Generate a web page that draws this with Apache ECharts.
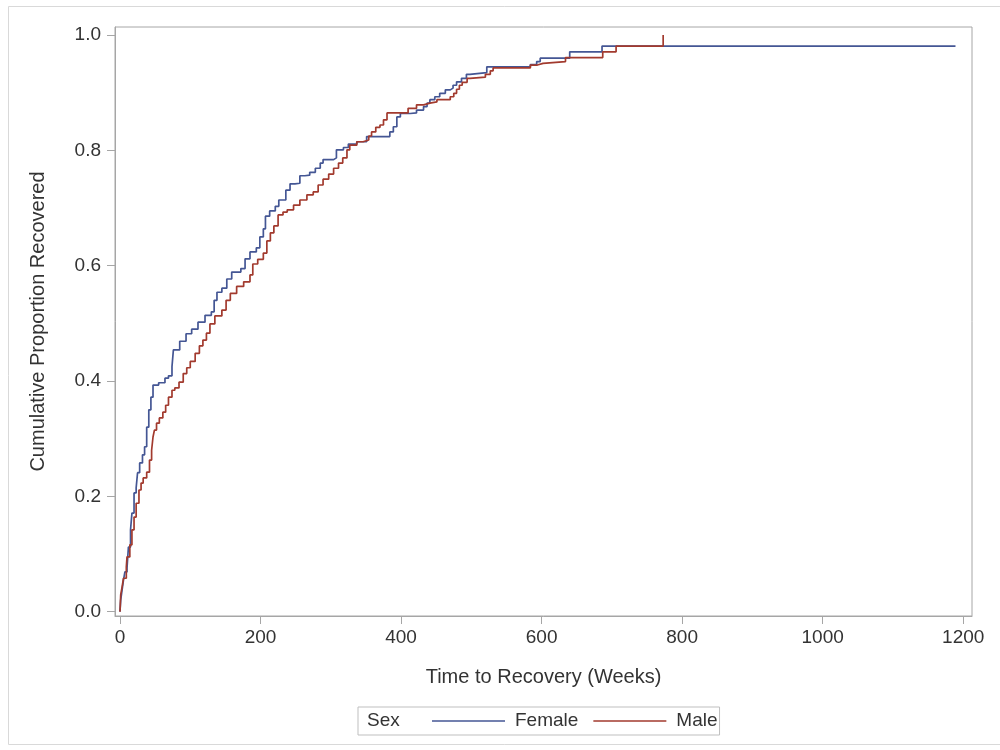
<!DOCTYPE html>
<html>
<head>
<meta charset="utf-8">
<script src="https://cdn.jsdelivr.net/npm/echarts@6/dist/echarts.min.js"></script>
<style>
html,body{margin:0;padding:0;background:#fff;}
#chart{width:1000px;height:750px;}
</style>
</head>
<body>
<div id="chart"></div>
<script>
// Female (blue) cumulative proportion recovered: event times (weeks) and values
var femaleTime = [0,1,3,5,7,10,12,15,17,20,23,25,28,32,35,38,41,44,47,55,64,69,74,76,85,94,102,111,121,130,134,138,145,152,159,172,178,185,194,199,204,207,213,221,226,236,242,249,256,263,270,278,285,289,304,308,318,325,337,351,384,389,394,399,413,422,432,437,441,448,455,463,470,474,479,486,493,498,522,584,593,598,640,686,1189];
var femaleProp = [0,0.020,0.038,0.055,0.069,0.076,0.112,0.142,0.171,0.206,0.215,0.241,0.258,0.272,0.286,0.320,0.350,0.372,0.393,0.397,0.405,0.409,0.425,0.454,0.469,0.482,0.490,0.502,0.514,0.520,0.540,0.554,0.561,0.577,0.589,0.595,0.612,0.624,0.631,0.650,0.664,0.686,0.695,0.703,0.714,0.731,0.742,0.743,0.756,0.757,0.762,0.769,0.778,0.784,0.787,0.801,0.805,0.811,0.815,0.824,0.832,0.841,0.858,0.864,0.865,0.870,0.876,0.882,0.888,0.893,0.899,0.905,0.908,0.913,0.919,0.925,0.932,0.935,0.945,0.949,0.954,0.960,0.971,0.981,0.981];

// Male (red)
var maleTime = [0,1,3,5,9,10,14,17,20,23,27,30,33,38,42,45,47,49,52,56,61,65,69,74,78,84,90,95,100,107,113,118,123,128,135,145,151,157,166,176,185,189,196,204,209,214,219,225,232,238,247,256,266,275,282,289,297,304,311,317,323,327,337,346,354,358,364,370,375,380,410,422,432,441,451,470,475,479,483,487,494,498,520,527,531,584,594,602,634,687,706,773];
var maleProp = [0,0.029,0.043,0.058,0.078,0.095,0.116,0.142,0.164,0.188,0.211,0.223,0.232,0.242,0.263,0.280,0.303,0.315,0.327,0.336,0.346,0.358,0.372,0.384,0.388,0.398,0.413,0.423,0.434,0.448,0.461,0.471,0.483,0.499,0.513,0.523,0.540,0.552,0.564,0.572,0.584,0.603,0.611,0.622,0.643,0.657,0.669,0.688,0.693,0.697,0.705,0.714,0.723,0.728,0.740,0.750,0.759,0.769,0.778,0.787,0.801,0.809,0.815,0.818,0.825,0.832,0.840,0.844,0.853,0.865,0.873,0.879,0.882,0.884,0.888,0.893,0.899,0.906,0.913,0.918,0.925,0.927,0.932,0.938,0.943,0.948,0.951,0.954,0.961,0.971,0.981,1.0];

var xTicks = [0,200,400,600,800,1000,1200];
var yTicks = [0,0.2,0.4,0.6,0.8,1.0];
var seriesNames = ['Female','Male'];
var legendTitle = 'Sex';
var xTitle = 'Time to Recovery (Weeks)';
var yTitle = 'Cumulative Proportion Recovered';

function zip(a,b){ var o=[]; for(var i=0;i<a.length;i++){ o.push([a[i],b[i]]); } return o; }

var FONT = '"Liberation Sans", Arial, sans-serif';
var AXIS_COLOR = '#a6a6a6';
var TEXT_COLOR = '#333333';
var BLUE = '#445694';
var RED = '#A23A2E';

var chart = echarts.init(document.getElementById('chart'), null, {renderer:'canvas'});
chart.setOption({
  backgroundColor: '#ffffff',
  animation: false,
  textStyle: {fontFamily: FONT},
  grid: {left:115, right:28, top:27, bottom:134, show:true, borderColor:AXIS_COLOR, borderWidth:1, containLabel:false},
  graphic: [
    {type:'rect', shape:{x:8.5, y:6.5, width:1000, height:738}, style:{fill:'none', stroke:'#d9d9d9', lineWidth:1}, silent:true},
    {type:'text', left:367, top:711, style:{text:legendTitle, font:'19px ' + FONT, fill:TEXT_COLOR}, silent:true}
  ],
  legend: {
    left: 358, top: 707,
    padding: [4, 2, 4, 74],
    borderColor: '#bfbfbf', borderWidth: 1,
    icon: 'rect',
    itemWidth: 73, itemHeight: 1.7, itemGap: 15,
    textStyle: {fontSize:19, color:TEXT_COLOR, fontFamily:FONT, padding:[0,0,0,5], lineHeight:20},
    data: [
      {name:seriesNames[0], itemStyle:{color:BLUE}},
      {name:seriesNames[1], itemStyle:{color:RED}}
    ]
  },
  xAxis: {
    type:'value', min:-7.1, max:1212.5,
    name: xTitle, nameLocation:'middle', nameGap:51,
    nameTextStyle:{fontSize:20, color:TEXT_COLOR, fontFamily:FONT},
    axisLine:{show:true, onZero:false, lineStyle:{color:AXIS_COLOR, width:1}},
    axisTick:{show:true, length:8, customValues:xTicks, lineStyle:{color:AXIS_COLOR}},
    axisLabel:{customValues:xTicks, fontSize:19, color:TEXT_COLOR, margin:12, fontFamily:FONT,
      formatter:function(v){ return String(v); }},
    splitLine:{show:false}
  },
  yAxis: {
    type:'value', min:-0.0075, max:1.014,
    name: yTitle, nameLocation:'middle', nameGap:67,
    nameTextStyle:{fontSize:20, color:TEXT_COLOR, fontFamily:FONT},
    axisLine:{show:true, onZero:false, lineStyle:{color:AXIS_COLOR, width:1}},
    axisTick:{show:true, length:8, customValues:yTicks, lineStyle:{color:AXIS_COLOR}},
    axisLabel:{customValues:yTicks, fontSize:19, color:TEXT_COLOR, margin:14, fontFamily:FONT,
      formatter:function(v){ return v.toFixed(1); }},
    splitLine:{show:false}
  },
  series: [
    {name:seriesNames[0], type:'line', step:'end', symbol:'none', data:zip(femaleTime,femaleProp),
     lineStyle:{color:BLUE, width:1.7}, itemStyle:{color:BLUE}},
    {name:seriesNames[1], type:'line', step:'end', symbol:'none', data:zip(maleTime,maleProp),
     lineStyle:{color:RED, width:1.7}, itemStyle:{color:RED}}
  ]
});
</script>
</body>
</html>
